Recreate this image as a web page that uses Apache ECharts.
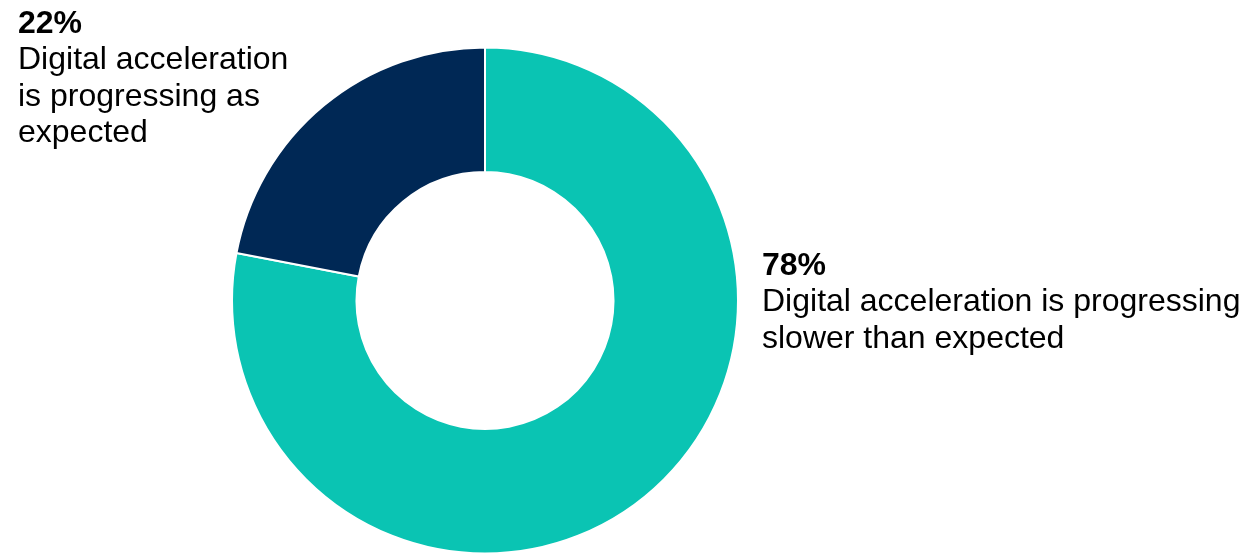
<!DOCTYPE html>
<html><head><meta charset="utf-8">
<script src="https://cdn.jsdelivr.net/npm/echarts@6/dist/echarts.min.js"></script>
<style>html,body{margin:0;padding:0;background:#fff}#c{width:1242px;height:555px}</style>
</head><body><div id="c"></div>
<script>
const categories = ["Digital acceleration is progressing slower than expected", "Digital acceleration is progressing as expected"];
const values = [78, 22];
const colors = ["#0AC4B3", "#002855"];
const labelLines = [
  ["Digital acceleration is progressing", "slower than expected"],
  ["Digital acceleration", "is progressing as", "expected"]
];
const labelAnchors = [[762, 274], [18, 32]]; // x, baseline of percentage line

const font = '"Liberation Sans", Arial, sans-serif';
const LH = 36.5;
const graphics = [];
values.forEach((v, i) => {
  const [x, b] = labelAnchors[i];
  graphics.push({type:'text', left:x, top: b - 24, style:{text: v + '%', font: 'bold 32px ' + font, fill:'#000'}});
  labelLines[i].forEach((t, j) => {
    graphics.push({type:'text', left:x, top: b + LH*(j+1) - 24, style:{text: t, font: '32px ' + font, fill:'#000'}});
  });
});

const chart = echarts.init(document.getElementById('c'), null, {renderer:'canvas'});
chart.setOption({
  animation:false,
  graphic: graphics,
  series:[{
    type:'pie',
    center:[485, 300.5],
    radius:[128.5, 253],
    startAngle:90,
    clockwise:true,
    label:{show:false},
    labelLine:{show:false},
    emphasis:{disabled:true},
    itemStyle:{borderColor:'#fff', borderWidth:2},
    data: values.map((v,i)=>({name:categories[i], value:v, itemStyle:{color:colors[i]}}))
  }]
});
</script></body></html>
